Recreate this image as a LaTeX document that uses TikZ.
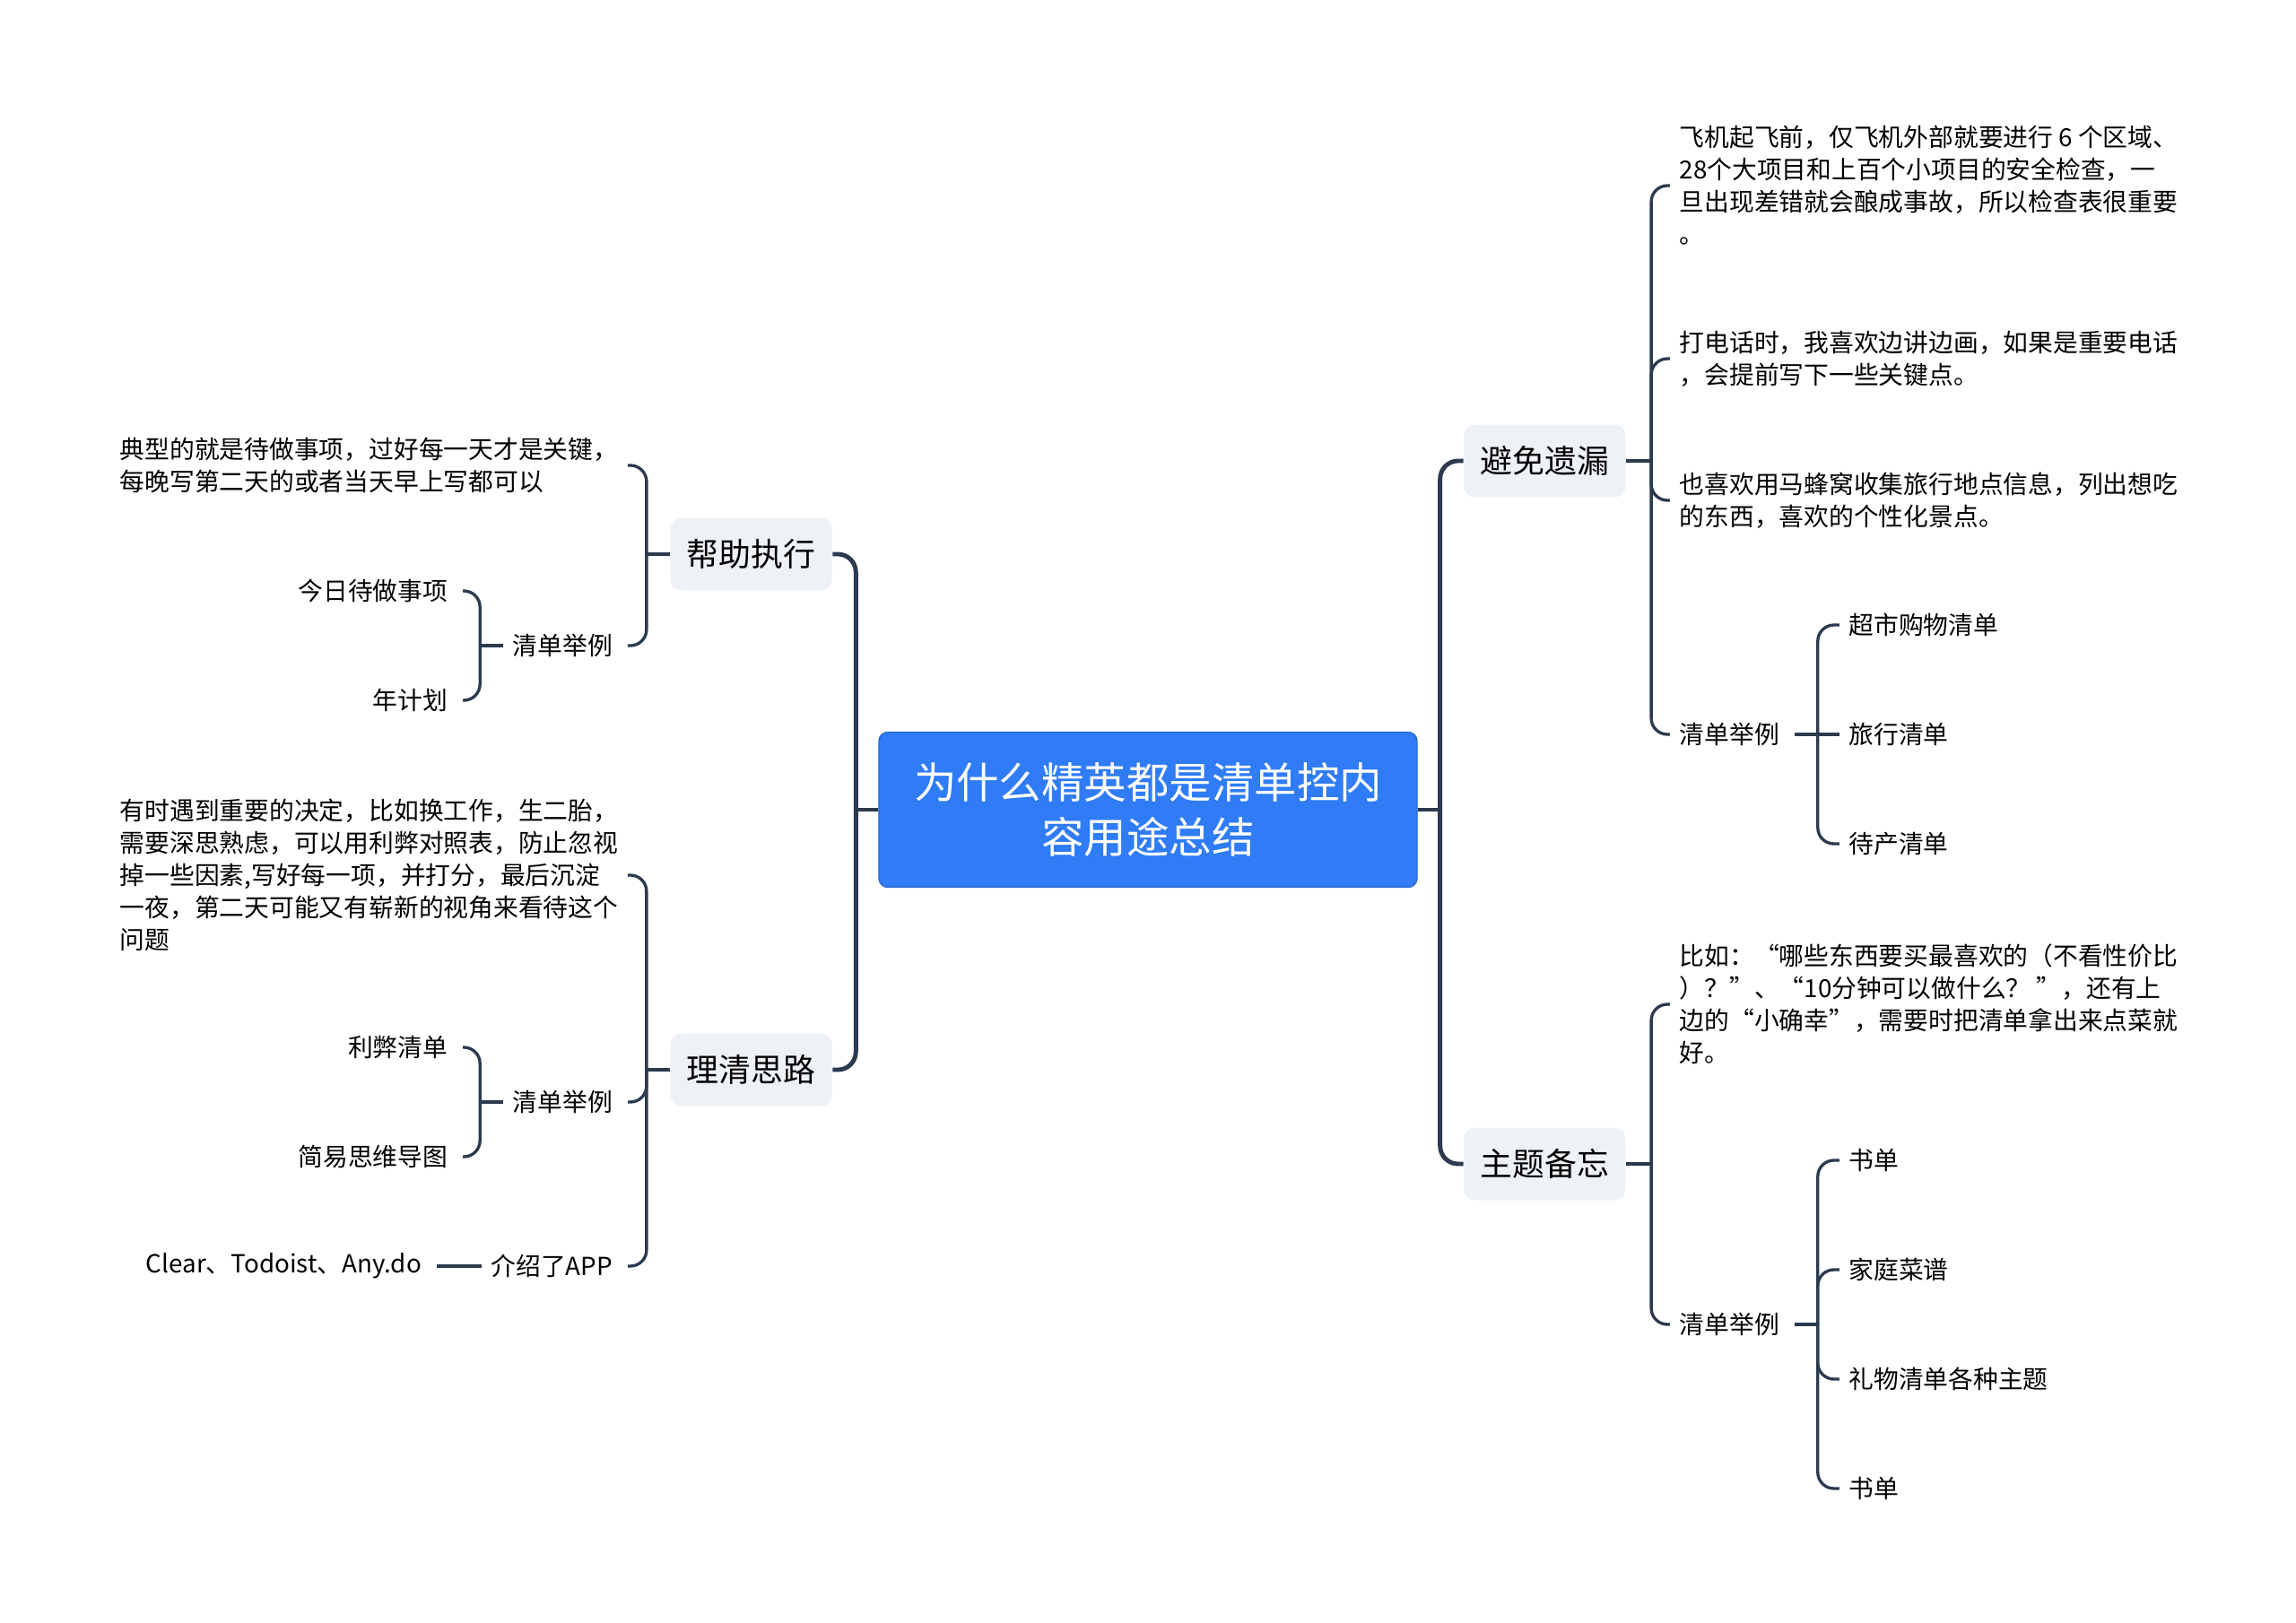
\documentclass[tikz,border=0pt]{standalone}
\usepackage{fontspec}
\setmainfont{Noto Sans CJK SC}
\usetikzlibrary{positioning}
\definecolor{rootblue}{HTML}{2F7CF6}
\definecolor{topicgray}{HTML}{EEF1F5}
\definecolor{linkcol}{HTML}{2C3A4F}

\begin{document}
\begin{tikzpicture}[
    root/.style={
        rectangle,
        fill=rootblue,
        draw=rootblue!85!black,
        line width=0.4pt,
        rounded corners=0.1cm,
        align=center,
        minimum width=6cm,
        minimum height=1.73cm,
        text=white,
        font=\fontsize{13.5pt}{17.6pt}\selectfont
    },
    topic/.style={
        rectangle,
        fill=topicgray,
        rounded corners=0.12cm,
        minimum width=1.8cm,
        minimum height=0.81cm,
        font=\fontsize{10.2pt}{12pt}\selectfont
    },
    leaf/.style={
        inner xsep=0.1cm,
        inner ysep=0.04cm,
        align=left,
        font=\fontsize{7.9pt}{10.24pt}\selectfont
    },
    trunk/.style={draw=linkcol, line width=1.4pt, rounded corners=0.2cm},
    link/.style={draw=linkcol, line width=0.95pt, rounded corners=0.18cm}
]
\useasboundingbox (-12.8,-9.06) rectangle (12.8,9.03);

\node[root] (root) {
为什么精英都是清单控内\\容用途总结
};

\node[topic, left=0.51cm of root, yshift=2.85cm] (help_topic) {
帮助执行
};
\node[leaf, left=0.47cm of help_topic, yshift=0.99cm] (help_note) {
典型的就是待做事项，过好每一天才是关键，\\
每晚写第二天的或者当天早上写都可以
};
\node[leaf, left=0.47cm of help_topic, yshift=-1.02cm] (help_list) {
清单举例
};
\node[leaf, left=0.45cm of help_list, yshift=0.61cm] (help_today) {
今日待做事项
};
\node[leaf, left=0.45cm of help_list, yshift=-0.61cm] (help_year) {
年计划
};

\node[topic, left=0.51cm of root, yshift=-2.9cm] (think_topic) {
理清思路
};
\node[leaf, left=0.47cm of think_topic, yshift=2.17cm] (think_note) {
有时遇到重要的决定，比如换工作，生二胎，\\
需要深思熟虑，可以用利弊对照表，防止忽视\\
掉一些因素,写好每一项，并打分，最后沉淀\\
一夜，第二天可能又有崭新的视角来看待这个\\
问题
};
\node[leaf, left=0.47cm of think_topic, yshift=-0.36cm] (think_list) {
清单举例
};
\node[leaf, left=0.45cm of think_list, yshift=0.61cm] (think_pros) {
利弊清单
};
\node[leaf, left=0.45cm of think_list, yshift=-0.61cm] (think_map) {
简易思维导图
};
\node[leaf, left=0.47cm of think_topic, yshift=-2.19cm] (think_app) {
介绍了APP
};
\node[leaf, left=0.5cm of think_app] (think_apps) {
Clear、Todoist、Any.do
};

\node[topic, right=0.51cm of root, yshift=3.89cm] (miss_topic) {
避免遗漏
};
\node[leaf, right=0.49cm of miss_topic, yshift=3.07cm] (miss_plane) {
飞机起飞前，仅飞机外部就要进行 6 个区域、\\
28个大项目和上百个小项目的安全检查，一\\
旦出现差错就会酿成事故，所以检查表很重要\\
。
};
\node[leaf, right=0.49cm of miss_topic, yshift=1.14cm] (miss_phone) {
打电话时，我喜欢边讲边画，如果是重要电话\\
，会提前写下一些关键点。
};
\node[leaf, right=0.49cm of miss_topic, yshift=-0.44cm] (miss_trip) {
也喜欢用马蜂窝收集旅行地点信息，列出想吃\\
的东西，喜欢的个性化景点。
};
\node[leaf, right=0.49cm of miss_topic, yshift=-3.05cm] (miss_list) {
清单举例
};
\node[leaf, right=0.5cm of miss_list, yshift=1.22cm] (miss_shop) {
超市购物清单
};
\node[leaf, right=0.5cm of miss_list] (miss_travel) {
旅行清单
};
\node[leaf, right=0.5cm of miss_list, yshift=-1.22cm] (miss_baby) {
待产清单
};

\node[topic, right=0.51cm of root, yshift=-3.95cm] (memo_topic) {
主题备忘
};
\node[leaf, right=0.49cm of memo_topic, yshift=1.78cm] (memo_note) {
比如：“哪些东西要买最喜欢的（不看性价比\\
）？”、“10分钟可以做什么？ ”，还有上\\
边的“小确幸”，需要时把清单拿出来点菜就\\
好。
};
\node[leaf, right=0.49cm of memo_topic, yshift=-1.79cm] (memo_list) {
清单举例
};
\node[leaf, right=0.5cm of memo_list, yshift=1.83cm] (memo_books) {
书单
};
\node[leaf, right=0.5cm of memo_list, yshift=0.61cm] (memo_recipes) {
家庭菜谱
};
\node[leaf, right=0.5cm of memo_list, yshift=-0.61cm] (memo_gifts) {
礼物清单各种主题
};
\node[leaf, right=0.5cm of memo_list, yshift=-1.83cm] (memo_books_two) {
书单
};

\draw[trunk] (root.west) -- ++(-0.25,0) coordinate (root_l);
\draw[trunk] (root_l) |- (help_topic.east);
\draw[trunk] (root_l) |- (think_topic.east);
\draw[trunk] (root.east) -- ++(0.25,0) coordinate (root_r);
\draw[trunk] (root_r) |- (miss_topic.west);
\draw[trunk] (root_r) |- (memo_topic.west);

\draw[link] (help_topic.west) -- ++(-0.26,0) coordinate (help_j);
\draw[link] (help_j) |- (help_note.east);
\draw[link] (help_j) |- (help_list.east);
\draw[link] (help_list.west) -- ++(-0.26,0) coordinate (help_list_j);
\draw[link] (help_list_j) |- (help_today.east);
\draw[link] (help_list_j) |- (help_year.east);

\draw[link] (think_topic.west) -- ++(-0.26,0) coordinate (think_j);
\draw[link] (think_j) |- (think_note.east);
\draw[link] (think_j) |- (think_list.east);
\draw[link] (think_j) |- (think_app.east);
\draw[link] (think_list.west) -- ++(-0.26,0) coordinate (think_list_j);
\draw[link] (think_list_j) |- (think_pros.east);
\draw[link] (think_list_j) |- (think_map.east);
\draw[link] (think_app) -- (think_apps);

\draw[link] (miss_topic.east) -- ++(0.28,0) coordinate (miss_j);
\draw[link] (miss_j) |- (miss_plane.west);
\draw[link] (miss_j) |- (miss_phone.west);
\draw[link] (miss_j) |- (miss_trip.west);
\draw[link] (miss_j) |- (miss_list.west);
\draw[link] (miss_list.east) -- ++(0.26,0) coordinate (miss_list_j);
\draw[link] (miss_list_j) |- (miss_shop.west);
\draw[link] (miss_list_j) -- (miss_travel.west);
\draw[link] (miss_list_j) |- (miss_baby.west);

\draw[link] (memo_topic.east) -- ++(0.28,0) coordinate (memo_j);
\draw[link] (memo_j) |- (memo_note.west);
\draw[link] (memo_j) |- (memo_list.west);
\draw[link] (memo_list.east) -- ++(0.26,0) coordinate (memo_list_j);
\draw[link] (memo_list_j) |- (memo_books.west);
\draw[link] (memo_list_j) |- (memo_recipes.west);
\draw[link] (memo_list_j) |- (memo_gifts.west);
\draw[link] (memo_list_j) |- (memo_books_two.west);

\end{tikzpicture}
\end{document}
